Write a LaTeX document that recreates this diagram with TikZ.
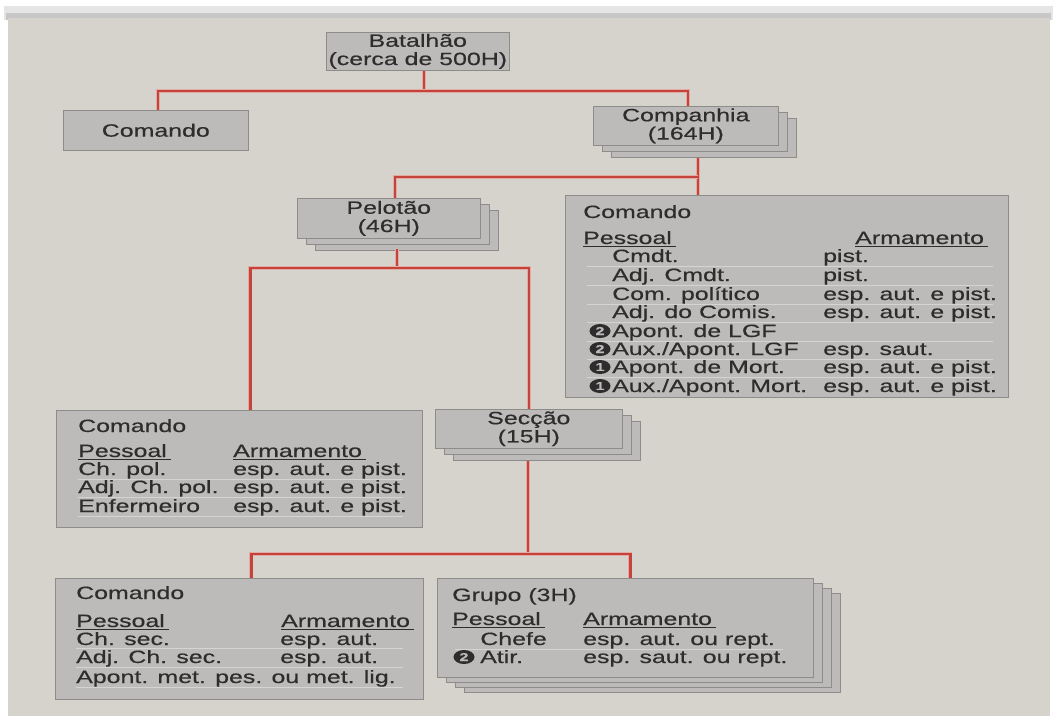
\documentclass[tikz,border=0pt]{standalone}
\usepackage{fontspec}
\newfontfamily\bookfont{Liberation Sans}[FakeStretch=1.40, FakeBold=0.4]
\usetikzlibrary{shapes.geometric, shadows}

\definecolor{paper}{HTML}{D6D3CC}
\definecolor{boxfill}{HTML}{BDBBB9}
\definecolor{boxedge}{HTML}{8E8C8A}
\definecolor{ink}{HTML}{2E2C2C}
\definecolor{linkred}{HTML}{C6433B}
\definecolor{linkglow}{HTML}{E2ABA4}
\definecolor{rowrule}{HTML}{D6D4D2}

\begin{document}
\begin{tikzpicture}[
  x=1pt, y=-1pt,
  font=\bookfont\fontsize{17.8}{18.3}\selectfont,
  orgbox/.style  = {draw=boxedge, line width=0.6pt, fill=boxfill, inner sep=0pt,
                    anchor=north west, text=ink, align=center},
  stack2/.style  = {double copy shadow={shadow xshift=9pt, shadow yshift=-6pt,
                    draw=boxedge, fill=boxfill}},
  stack3/.style  = {copy shadow={shadow xshift=27pt, shadow yshift=-15pt, draw=boxedge, fill=boxfill},
                    copy shadow={shadow xshift=18pt, shadow yshift=-10pt, draw=boxedge, fill=boxfill},
                    copy shadow={shadow xshift=9pt, shadow yshift=-5pt, draw=boxedge, fill=boxfill}},
  txt/.style     = {inner sep=0pt, anchor=base west, text=ink},
  num/.style     = {ellipse, fill=ink, text=boxfill, inner sep=0pt, minimum width=21pt,
                    minimum height=14pt, font=\bookfont\bfseries\fontsize{11.5}{11.5}\selectfont},
  redline/.style = {draw=linkred, line width=2.4pt, preaction={draw=linkglow, line width=4pt}},
  uline/.style   = {draw=ink, line width=1pt},
  rowline/.style = {draw=rowrule, line width=1pt},
]
  \useasboundingbox (0,0) rectangle (1057,720);

  % paper and frame
  \fill[white]          (0,0)  rectangle (1057,720);
  \fill[black!10]       (4,6)  rectangle (1053,20);
  \fill[black!22]       (6,13) rectangle (1051,20);
  \fill[paper]          (8,18) rectangle (1050,716);

  % units
  \node[orgbox, minimum width=183pt, minimum height=38pt]          (bat)  at (326,32)  {Batalhão\\(cerca de 500H)};
  \node[orgbox, minimum width=185pt, minimum height=40pt]          (cmdA) at (63,110)  {Comando};
  \node[orgbox, stack2, minimum width=185pt, minimum height=39pt]  (comp) at (593,106) {Companhia\\(164H)};
  \node[orgbox, stack2, minimum width=183pt, minimum height=40pt]  (pel)  at (297,198) {Pelotão\\(46H)};
  \node[orgbox, minimum width=443pt, minimum height=202pt]         (cmdB) at (565,195) {};
  \node[orgbox, minimum width=366pt, minimum height=117pt]         (cmdC) at (56,410)  {};
  \node[orgbox, stack2, minimum width=187pt, minimum height=39pt]  (sec)  at (435,409) {Secção\\(15H)};
  \node[orgbox, minimum width=368pt, minimum height=121pt]         (cmdD) at (55,578)  {};
  \node[orgbox, stack3, minimum width=376pt, minimum height=99pt]  (grp)  at (437,578) {};

  % Comando da companhia
  \foreach \y in {266.5,285,304,322,341,359,377} \draw[rowline] (587,\y) -- (993,\y);
  \node[txt] (bHead) at (583,218) {Comando};
  \node[txt] (bP)    at (583,244) {Pessoal};
  \node[txt] (bA)    at (855,244) {Armamento};
  \node[txt] (b1p) at (612,262) {Cmdt.};
  \node[txt] (b1w) at (823,262) {pist.};
  \node[txt] (b2p) at (612,281) {Adj. Cmdt.};
  \node[txt] (b2w) at (823,281) {pist.};
  \node[txt] (b3p) at (612,300) {Com. político};
  \node[txt] (b3w) at (823,300) {esp. aut. e pist.};
  \node[txt] (b4p) at (612,318) {Adj. do Comis.};
  \node[txt] (b4w) at (823,318) {esp. aut. e pist.};
  \node[txt] (b5p) at (612,337) {Apont. de LGF};
  \node[txt] (b6p) at (612,355) {Aux./Apont. LGF};
  \node[txt] (b6w) at (823,355) {esp. saut.};
  \node[txt] (b7p) at (612,373) {Apont. de Mort.};
  \node[txt] (b7w) at (823,373) {esp. aut. e pist.};
  \node[txt] (b8p) at (612,392) {Aux./Apont. Mort.};
  \node[txt] (b8w) at (823,392) {esp. aut. e pist.};
  \node[num] (b5n) at (600,331) {2};
  \node[num] (b6n) at (600,349) {2};
  \node[num] (b7n) at (600,367) {1};
  \node[num] (b8n) at (600,386) {1};

  % Comando do pelotao
  \foreach \y in {479.5,497.5,516} \draw[rowline] (78,\y) -- (403,\y);
  \node[txt] (cHead) at (78,432)  {Comando};
  \node[txt] (cP)    at (78,457)  {Pessoal};
  \node[txt] (cA)    at (233,457) {Armamento};
  \node[txt] (c1p) at (78,475)  {Ch. pol.};
  \node[txt] (c1w) at (233,475) {esp. aut. e pist.};
  \node[txt] (c2p) at (78,493)  {Adj. Ch. pol.};
  \node[txt] (c2w) at (233,493) {esp. aut. e pist.};
  \node[txt] (c3p) at (78,512)  {Enfermeiro};
  \node[txt] (c3w) at (233,512) {esp. aut. e pist.};

  % Comando da seccao
  \foreach \y in {648.5,667,687} \draw[rowline] (76,\y) -- (403,\y);
  \node[txt] (dHead) at (76,599)  {Comando};
  \node[txt] (dP)    at (76,627)  {Pessoal};
  \node[txt] (dA)    at (281,627) {Armamento};
  \node[txt] (d1p) at (76,645)  {Ch. sec.};
  \node[txt] (d1w) at (280,645) {esp. aut.};
  \node[txt] (d2p) at (76,663)  {Adj. Ch. sec.};
  \node[txt] (d2w) at (280,663) {esp. aut.};
  \node[txt] (d3p) at (76,683)  {Apont. met. pes. ou met. lig.};

  % Grupo
  \draw[rowline] (455,649.5) -- (783,649.5);
  \node[txt] (gHead) at (452,601) {Grupo (3H)};
  \node[txt] (gP)    at (452,625) {Pessoal};
  \node[txt] (gA)    at (583,625) {Armamento};
  \node[txt, anchor=base east] (g1p) at (547,645) {Chefe};
  \node[txt] (g1w) at (583,645) {esp. aut. ou rept.};
  \node[num] (g2n) at (464,657) {2};
  \node[txt] (g2p) at (480,663) {Atir.};
  \node[txt] (g2w) at (583,663) {esp. saut. ou rept.};

  % underlined headings
  \foreach \h in {bP,bA,cP,cA,dP,dA,gP,gA}
    \draw[uline] ([yshift=-2.5pt]\h.base west) -- ([xshift=4pt,yshift=-2.5pt]\h.base east);

  % connectors
  \coordinate (bus1) at (424,91);
  \coordinate (bus2) at (698,177);
  \coordinate (bus3) at (397,268);
  \coordinate (bus4) at (528,554);

  \draw[redline] (bat.south -| bus1) -- (bus1);
  \draw[redline] ([xshift=2pt]cmdA.north) |- (bus1) -| ([xshift=2pt]comp.north);

  \draw[redline] ([yshift=-12pt]comp.south -| bus2) -- (bus2 |- cmdB.north);
  \draw[redline] (bus2) -| ([xshift=6pt]pel.north);

  \draw[redline] ([yshift=-10pt]pel.south -| bus3) -- (bus3);
  \draw[redline] ([xshift=11pt]cmdC.north) |- (bus3) -| (sec.north);

  \draw[redline] ([yshift=-12pt]sec.south -| bus4) -- (bus4);
  \draw[redline] ([xshift=12pt]cmdD.north) |- (bus4) -| ([xshift=5pt]grp.north);
\end{tikzpicture}
\end{document}
